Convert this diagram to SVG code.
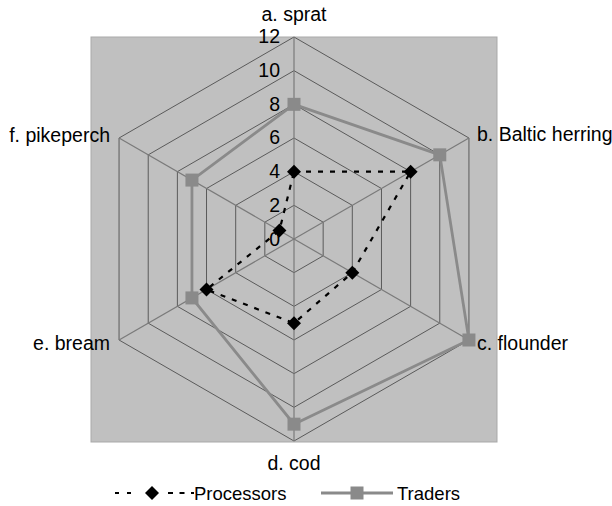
<svg xmlns="http://www.w3.org/2000/svg" width="612" height="506" viewBox="0 0 612 506">
<style>
text{font-family:"Liberation Sans",Arial,sans-serif;fill:#000}
.lab{font-size:19.5px}
.num{font-size:19.5px;text-anchor:end}
.ring{fill:none;stroke:#5a5a5a;stroke-width:1}
.spoke{stroke:#7a7a7a;stroke-width:1.2}
.proc{fill:none;stroke:#000;stroke-width:2.2;stroke-dasharray:5 7}
.trad{fill:none;stroke:#8a8a8a;stroke-width:2.8}
.dia{fill:#000}
.sq{fill:#8a8a8a}
</style>
<defs>
<path id="dm" d="M0,-7 L7,0 L0,7 L-7,0 Z" class="dia"/>
<rect id="sqm" x="-6.5" y="-6.5" width="13" height="13" class="sq"/>
</defs>
<rect x="91" y="37" width="406" height="405" fill="#c0c0c0" stroke="#a9a9a9" stroke-width="1"/>
<g id="grid">
<polygon class="ring" points="294,205.33 323.16,222.17 323.16,255.83 294,272.67 264.84,255.83 264.84,222.17"/>
<polygon class="ring" points="294,171.67 352.31,205.33 352.31,272.67 294,306.33 235.69,272.67 235.69,205.33"/>
<polygon class="ring" points="294,138 381.47,188.5 381.47,289.5 294,340 206.53,289.5 206.53,188.5"/>
<polygon class="ring" points="294,104.33 410.62,171.67 410.62,306.33 294,373.67 177.38,306.33 177.38,171.67"/>
<polygon class="ring" points="294,70.67 439.78,154.83 439.78,323.17 294,407.33 148.22,323.17 148.22,154.83"/>
<polygon class="ring" points="294,37 468.94,138 468.94,340 294,441 119.06,340 119.06,138"/>
<line class="spoke" x1="294" y1="239" x2="294" y2="37"/>
<line class="spoke" x1="294" y1="239" x2="468.94" y2="138"/>
<line class="spoke" x1="294" y1="239" x2="468.94" y2="340"/>
<line class="spoke" x1="294" y1="239" x2="294" y2="441"/>
<line class="spoke" x1="294" y1="239" x2="119.06" y2="340"/>
<line class="spoke" x1="294" y1="239" x2="119.06" y2="138"/>
</g>
<g id="scale">
<text class="num" x="280" y="245.5">0</text>
<text class="num" x="280" y="211.7">2</text>
<text class="num" x="280" y="178">4</text>
<text class="num" x="280" y="144.3">6</text>
<text class="num" x="280" y="110.6">8</text>
<text class="num" x="280" y="77">10</text>
<text class="num" x="280" y="43.3">12</text>
</g>
<g id="connectors">
<polygon id="traders-line" class="trad" points="294,104.33 439.78,154.83 468.94,340 294,424.17 191.95,297.92 191.95,180.08"/>
<polygon id="processors-line" class="proc" points="294,171.67 410.62,171.67 352.31,272.67 294,323.17 206.53,289.5 279.42,230.58"/>
</g>
<g id="traders-markers">
<use href="#sqm" x="294" y="104.33"/>
<use href="#sqm" x="439.78" y="154.83"/>
<use href="#sqm" x="468.94" y="340"/>
<use href="#sqm" x="294" y="424.17"/>
<use href="#sqm" x="191.95" y="297.92"/>
<use href="#sqm" x="191.95" y="180.08"/>
</g>
<g id="processors-markers">
<use href="#dm" x="294" y="171.67"/>
<use href="#dm" x="410.62" y="171.67"/>
<use href="#dm" x="352.31" y="272.67"/>
<use href="#dm" x="294" y="323.17"/>
<use href="#dm" x="206.53" y="289.5"/>
<use href="#dm" x="279.42" y="230.58"/>
</g>
<g id="node-a"><text class="lab" x="294" y="21" text-anchor="middle">a. sprat</text></g>
<g id="node-b"><text class="lab" x="477" y="141">b. Baltic herring</text></g>
<g id="node-c"><text class="lab" x="477" y="350">c. flounder</text></g>
<g id="node-d"><text class="lab" x="294" y="470" text-anchor="middle">d. cod</text></g>
<g id="node-e"><text class="lab" x="110" y="350" text-anchor="end">e. bream</text></g>
<g id="node-f"><text class="lab" x="110" y="142" text-anchor="end">f. pikeperch</text></g>
<g id="legend">
<line class="proc" x1="115" y1="493" x2="131" y2="493" style="stroke-dasharray:4 8"/>
<line class="proc" x1="168" y1="493" x2="194" y2="493" style="stroke-dasharray:5 6.5"/>
<use href="#dm" x="152" y="493"/>
<text x="194" y="500" font-size="18.5">Processors</text>
<line class="trad" x1="321" y1="493" x2="393" y2="493"/>
<use href="#sqm" x="357" y="493"/>
<text x="397" y="500" font-size="18.5">Traders</text>
</g>
</svg>
